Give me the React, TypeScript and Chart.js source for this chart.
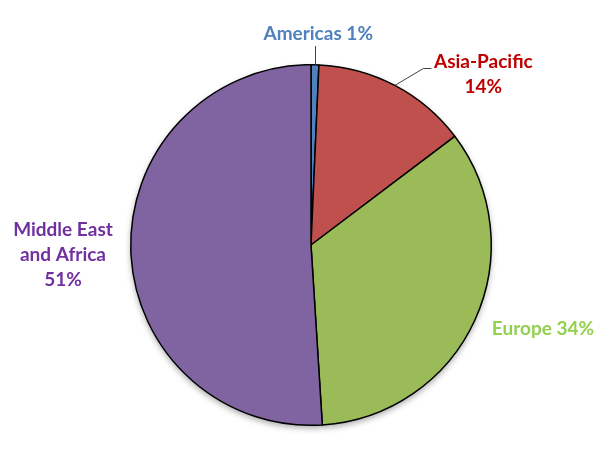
import React, { useEffect, useRef } from "react";
import { Chart, registerables } from "chart.js";

Chart.register(...registerables);

const categories = ["Americas", "Asia-Pacific", "Europe", "Middle East and Africa"];
const values = [0.7, 14.0, 34.3, 51.0];
const percentLabels = ["1%", "14%", "34%", "51%"];
const sliceColors = ["#4F81BD", "#C0504D", "#9BBB59", "#8064A2"];
const labelColors = ["#4F81BD", "#C00000", "#92D050", "#7030A0"];
const labelLines = [
  ["Americas 1%"],
  ["Asia-Pacific", "14%"],
  ["Europe 34%"],
  ["Middle East", "and Africa", "51%"],
];
// label anchor offsets relative to pie centre, in units of radius
const labelOffsets = [
  [0.04, -1.17],
  [0.956, -0.947],
  [1.287, 0.464],
  [-1.376, 0.055],
];

const FONT = "bold 19px Lato, 'Open Sans', sans-serif";

const labelPlugin = {
  id: "customLabels",
  beforeDatasetsDraw(chart: any) {
    const meta = chart.getDatasetMeta(0);
    const a = meta.data[0];
    if (!a) return;
    const ctx = chart.ctx;
    ctx.save();
    ctx.shadowColor = "rgba(0,0,0,0.35)";
    ctx.shadowBlur = 6;
    ctx.shadowOffsetY = 3;
    ctx.beginPath();
    ctx.arc(a.x, a.y, a.outerRadius, 0, Math.PI * 2);
    ctx.fillStyle = "#ffffff";
    ctx.fill();
    ctx.restore();
  },
  afterDatasetsDraw(chart: any) {
    const meta = chart.getDatasetMeta(0);
    const ctx = chart.ctx;
    ctx.save();
    ctx.font = FONT;
    ctx.textAlign = "center";
    ctx.textBaseline = "middle";
    const lh = 25;
    meta.data.forEach((arc: any, i: number) => {
      const cx = arc.x;
      const cy = arc.y;
      const r = arc.outerRadius;
      const lx = cx + labelOffsets[i][0] * r;
      const ly = cy + labelOffsets[i][1] * r;
      const lines = labelLines[i];
      ctx.fillStyle = labelColors[i];
      lines.forEach((t, k) => {
        ctx.fillText(t, lx, ly + (k - (lines.length - 1) / 2) * lh);
      });
      // leader lines
      const mid = (arc.startAngle + arc.endAngle) / 2;
      const ex = cx + Math.cos(mid) * r;
      const ey = cy + Math.sin(mid) * r;
      ctx.strokeStyle = "#404040";
      ctx.lineWidth = 1;
      if (i === 0) {
        ctx.beginPath();
        ctx.moveTo(Math.round(ex) + 0.5, ey);
        ctx.lineTo(Math.round(ex) + 0.5, ly + 12);
        ctx.stroke();
      } else if (i === 1) {
        const yb = ly - lh / 2 + 6;
        ctx.beginPath();
        ctx.moveTo(ex, ey);
        ctx.lineTo(lx - 60, Math.round(yb) + 0.5);
        ctx.lineTo(lx - 52, Math.round(yb) + 0.5);
        ctx.stroke();
      }
    });
    ctx.restore();
  },
};

export default function App() {
  const ref = useRef<HTMLCanvasElement | null>(null);
  useEffect(() => {
    document.body.style.margin = "0";
    const chart = new Chart(ref.current as HTMLCanvasElement, {
      type: "pie",
      data: {
        labels: categories,
        datasets: [
          {
            data: values,
            backgroundColor: sliceColors,
            borderColor: "#000000",
            borderWidth: 1.5,
          },
        ],
      },
      options: {
        responsive: false,
        animation: false,
        layout: { padding: { left: 130, right: 118, top: 64, bottom: 29 } },
        plugins: {
          legend: { display: false },
          tooltip: { enabled: false },
        },
      },
      plugins: [labelPlugin],
    });
    return () => chart.destroy();
  }, []);
  return (
    <div style={{ width: 610, height: 455, background: "#fff" }}>
      <canvas ref={ref} width={610} height={455} />
    </div>
  );
}
